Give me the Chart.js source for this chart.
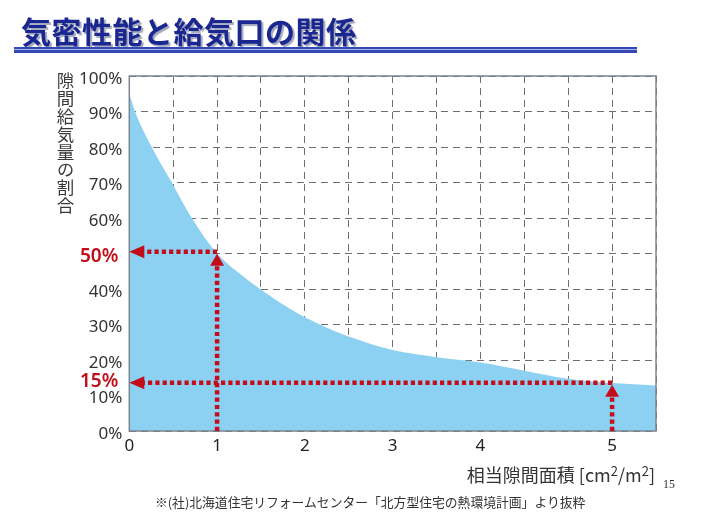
<!DOCTYPE html>
<html><head><meta charset="utf-8">
<script src="https://cdn.jsdelivr.net/npm/chart.js@4.4.0/dist/chart.umd.min.js"></script>
<style>
html,body{margin:0;padding:0;background:#fff;width:722px;height:530px;overflow:hidden;}
#wrap{position:relative;width:722px;height:530px;}
canvas{position:absolute;left:0;top:0;}
.t{position:absolute;white-space:nowrap;line-height:1;}
</style></head><body>
<div id="wrap">
<canvas id="c" width="722" height="530"></canvas>
<div class="t" style="left:21px;top:8px;font:700 30px 'Noto Sans CJK JP';color:#1a2790;text-shadow:2px 2px 1px #a3a7bb;letter-spacing:0.5px;">気密性能と給気口の関係</div>
<div style="position:absolute;left:14px;top:47px;width:623px;height:6px;background:linear-gradient(#3347b5 0,#3347b5 2px,#a9b3e6 2px,#a9b3e6 3px,#3347b5 3px,#3347b5 6px);"></div>
<div class="t" style="left:53px;top:72px;font:400 17.5px 'Noto Sans CJK JP';color:#3a3a3a;writing-mode:vertical-rl;text-orientation:upright;letter-spacing:0.3px;">隙間給気量の割合</div>
<div class="t" style="right:67px;top:461px;font:400 18px 'Noto Sans CJK JP';color:#333;">相当隙間面積 [cm<span style="font-size:13px;position:relative;top:-6px">2</span>/m<span style="font-size:13px;position:relative;top:-6px">2</span>]</div>
<div class="t" style="left:663px;top:477px;font:400 12px 'Liberation Serif';color:#333;">15</div>
<div class="t" style="left:155px;top:492px;font:400 12.8px 'Noto Sans CJK JP';color:#333;">※(社)北海道住宅リフォームセンター「北方型住宅の熱環境計画」より抜粋</div>
</div>
<script>
// curve: x in axis position units (grid every 0.5), y in %
const curveX = [0, 0.065, 0.255, 0.483, 0.711, 1.0, 1.26, 1.49, 1.82, 2.17, 2.5, 3.0, 3.5, 4.0, 4.5, 5.0, 5.5, 6.0];
const curveY = [95, 90, 80, 70, 60, 50, 44.3, 40, 34.6, 30, 26.6, 22.8, 20.8, 19.3, 17.0, 14.7, 13.5, 12.8];
const xTickValues = [0, 1, 2, 3, 4, 5.5];
const xTickLabels = ['0', '1', '2', '3', '4', '5'];
const arrowX = [1, 5.5];
const arrowY = [50.5, 13.6];
const arrowLabels = ['50%', '15%'];

const RED = '#c20e1a';
const annot = {
  id: 'annot',
  afterDraw(chart) {
    const {ctx, chartArea: a, scales: {x, y}} = chart;
    ctx.save();
    ctx.strokeStyle = '#7d8590';
    ctx.lineWidth = 1.5;
    ctx.strokeRect(a.left, a.top, a.right - a.left, a.bottom - a.top);
    arrowX.forEach((v, i) => {
      const px = x.getPixelForValue(v), py = y.getPixelForValue(arrowY[i]);
      ctx.strokeStyle = RED; ctx.fillStyle = RED;
      ctx.lineWidth = 4.5; ctx.setLineDash([4.2, 3.1]);
      ctx.beginPath(); ctx.moveTo(px, py); ctx.lineTo(a.left + 14, py); ctx.stroke();
      ctx.beginPath(); ctx.moveTo(px, a.bottom); ctx.lineTo(px, py + 13); ctx.stroke();
      ctx.setLineDash([]);
      ctx.beginPath(); ctx.moveTo(a.left, py); ctx.lineTo(a.left + 15, py - 6.5); ctx.lineTo(a.left + 15, py + 6.5); ctx.closePath(); ctx.fill();
      ctx.beginPath(); ctx.moveTo(px, py + 2); ctx.lineTo(px - 7, py + 14); ctx.lineTo(px + 7, py + 14); ctx.closePath(); ctx.fill();
      ctx.font = '600 19px "Noto Sans"';
      ctx.textAlign = 'right'; ctx.textBaseline = 'middle';
      ctx.fillText(arrowLabels[i], a.left - 11, py + (i === 0 ? 5 : -1.5));
    });
    ctx.restore();
  }
};

new Chart(document.getElementById('c'), {
  type: 'line',
  data: {
    datasets: [{
      data: curveX.map((v, i) => ({x: v, y: curveY[i]})),
      fill: 'origin',
      backgroundColor: '#8cd1f2',
      borderWidth: 0,
      pointRadius: 0,
      cubicInterpolationMode: 'monotone'
    }]
  },
  options: {
    responsive: false,
    animation: false,
    events: [],
    layout: {padding: {left: 0, top: 76, right: 66, bottom: 0}},
    plugins: {legend: {display: false}, tooltip: {enabled: false}},
    scales: {
      x: {
        type: 'linear', min: 0, max: 6, z: 1,
        afterFit(s) { s.height = 99; },
        grid: {color: '#6e6e6e', lineWidth: 1, drawTicks: false},
        border: {display: false, dash: [7, 5]},
        ticks: {
          stepSize: 0.5, autoSkip: false, maxRotation: 0, padding: 5,
          font: {family: 'Noto Sans', size: 17}, color: '#222',
          callback(v) { const i = xTickValues.findIndex(t => Math.abs(t - v) < 1e-6); return i >= 0 ? xTickLabels[i] : ''; }
        }
      },
      y: {
        min: 0, max: 100, z: 1,
        afterFit(s) { s.width = 129.3; },
        grid: {color: '#6e6e6e', lineWidth: 1, drawTicks: false},
        border: {display: false, dash: [7, 5]},
        ticks: {
          stepSize: 10, padding: 7, labelOffset: 3,
          font: {family: 'Noto Sans', size: 17}, color: '#333',
          callback(v) { return v === 50 ? '' : v + '%'; }
        }
      }
    }
  },
  plugins: [annot]
});
</script>
</body></html>
